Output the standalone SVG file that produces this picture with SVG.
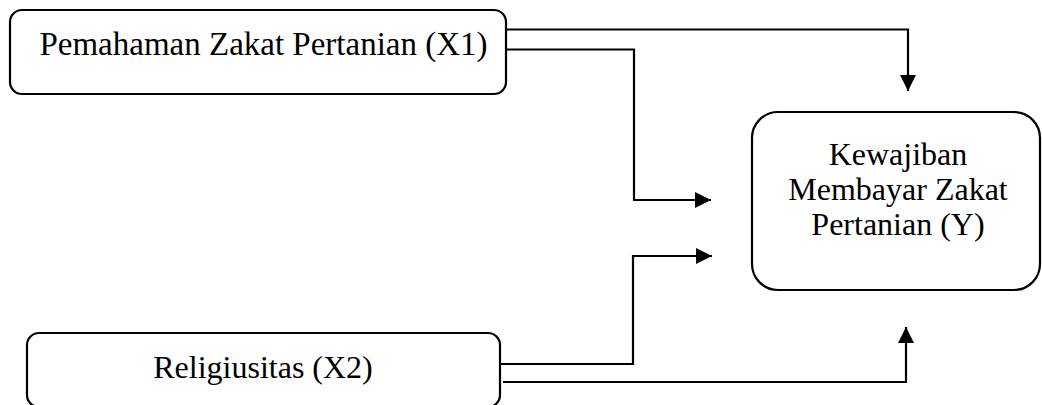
<svg xmlns="http://www.w3.org/2000/svg" width="1042" height="405" viewBox="0 0 1042 405">
  <defs>
    <marker id="arr" markerUnits="userSpaceOnUse" markerWidth="16" markerHeight="16" viewBox="0 0 16 16" refX="16" refY="8" orient="auto">
      <path d="M0,0 L16,8 L0,16 Z" fill="#000"/>
    </marker>
    <style>
      .box { fill: #fff; stroke: #000; stroke-width: 2.2; }
      .lbl { font-family: "Liberation Serif", "Times New Roman", serif; font-size: 32px; fill: #000; text-anchor: middle; }
      .con { fill: none; stroke: #000; stroke-width: 2.2; marker-end: url(#arr); }
    </style>
  </defs>
  <rect width="1042" height="405" fill="#fff"/>
  <g id="connectors">
    <path class="con" d="M507 29.5 H908 V91"/>
    <path class="con" d="M507 49.5 H634 V200 H711"/>
    <path class="con" d="M501 364 H633 V256 H712"/>
    <path class="con" d="M503 382 H906 V327"/>
  </g>
  <g id="x1">
    <rect class="box" x="10" y="10" width="496" height="84" rx="12"/>
    <text class="lbl" x="263.5" y="55" style="font-size:33px">Pemahaman Zakat Pertanian (X1)</text>
  </g>
  <g id="x2">
    <rect class="box" x="27" y="333" width="473" height="74" rx="12"/>
    <text class="lbl" x="263" y="378">Religiusitas (X2)</text>
  </g>
  <g id="y">
    <rect class="box" x="752" y="112" width="288" height="178" rx="26"/>
    <text class="lbl" x="898" y="165">Kewajiban</text>
    <text class="lbl" x="898" y="200">Membayar Zakat</text>
    <text class="lbl" x="898" y="235">Pertanian (Y)</text>
  </g>
</svg>
